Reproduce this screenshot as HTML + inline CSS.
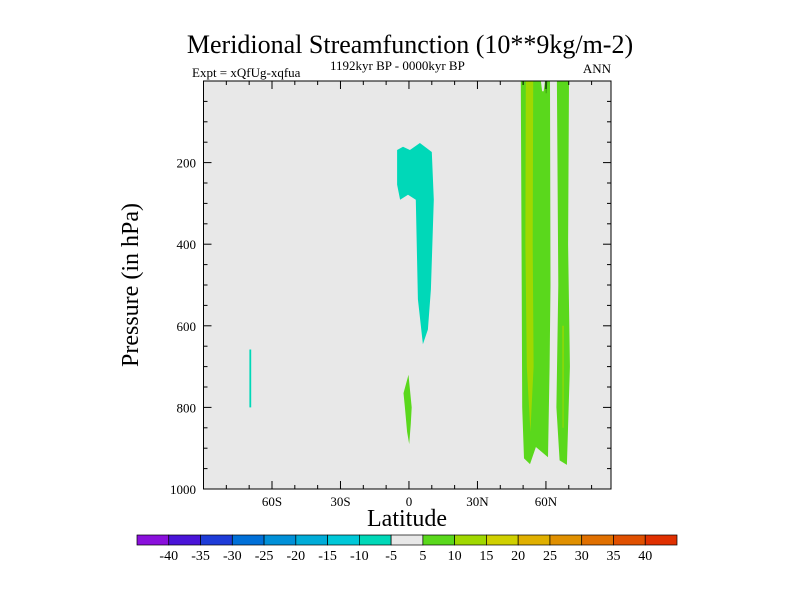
<!DOCTYPE html>
<html><head><meta charset="utf-8"><style>
body{margin:0;background:#fff}
svg{display:block;font-family:"Liberation Serif",serif}
</style></head><body>
<svg width="800" height="600" viewBox="0 0 800 600">
<text x="410" y="53" font-size="26" text-anchor="middle">Meridional Streamfunction (10**9kg/m-2)</text>
<text x="192" y="77" font-size="13">Expt = xQfUg-xqfua</text>
<text x="330" y="70" font-size="13">1192kyr BP - 0000kyr BP</text>
<text x="611" y="73" font-size="13" text-anchor="end">ANN</text>
<rect x="203.5" y="81" width="407.5" height="408" fill="#e8e8e8"/>
<g id="contours"></g>
<rect x="203.5" y="81" width="407.5" height="408" fill="none" stroke="#000" stroke-width="1"/>
<g id="axes"></g>
<text x="407" y="526" font-size="24" text-anchor="middle">Latitude</text>
<text transform="translate(138,285) rotate(-90)" font-size="24" text-anchor="middle">Pressure (in hPa)</text>
<g id="colorbar"></g>
</svg>
<script>
const latTicks=[-60,-30,0,30,60];
const latLabels=["60S","30S","0","30N","60N"];
const presTicks=[200,400,600,800,1000];
const cbLabels=["-40","-35","-30","-25","-20","-15","-10","-5","5","10","15","20","25","30","35","40"];
const cbColors=["#8a10dc","#4a14d8","#1e3cd8","#0070d8","#0090d8","#00acd8","#00c8d8","#00d8b8","#e8e8e8","#5ad81c","#a0d800","#d0d000","#e0b000","#e09000","#e07000","#e05000","#e03000"];
// contour polygons: [lat, pressure]
const cyanUpper=[[-5.2,169],[-2.6,161],[0.4,169],[4.8,152],[10.0,174],[10.9,291],[9.6,511],[8.3,609],[6.1,645],[3.9,535],[3.0,291],[-0.4,279],[-3.9,291],[-5.2,254]];
const cyanSouth=[[-69.9,658],[-69.1,658],[-69.1,800],[-69.9,800]];
const greenEq=[[-2.4,765],[-0.2,720],[1.2,800],[0.8,840],[0.1,890],[-0.8,860],[-1.8,800]];
const greenBand1=[[49.0,0],[61.8,0],[62.0,500],[61.6,700],[60.9,922],[55.6,897],[53.0,939],[50.4,925],[49.6,800],[49.4,500]];
const limeBand1=[[51.2,0],[54.4,0],[54.2,400],[54.6,700],[53.2,860],[51.6,700],[51.0,400]];
const gapTop=[[57.8,0],[59.6,0],[59.0,25],[58.3,25]];
const darkTop=[[59.8,0],[60.6,0],[60.3,30],[59.9,30]];
const greenBand2=[[64.8,0],[70.1,0],[69.7,400],[70.5,700],[69.2,941],[66.0,930],[64.6,800],[65.4,500]];
const limeBand2=[[67.2,600],[67.8,600],[67.7,850],[67.3,850]];
const polys=[[cyanUpper,"#00d8b8","cyan-region-equator"],[cyanSouth,"#00d8b8","cyan-region-south"],[greenEq,"#5ad81c","green-region-equator"],[greenBand1,"#5ad81c","green-band-60n"],[limeBand1,"#a0d800","lime-band-60n"],[gapTop,"#e8e8e8","gap-top-60n"],[darkTop,"#3a9a10","dark-top-60n"],[greenBand2,"#5ad81c","green-band-70n"],[limeBand2,"#a0d800","lime-band-70n"]];
const NS="http://www.w3.org/2000/svg";
const X0=203.5,X1=611,Y0=81,Y1=489,LAT0=-90,LAT1=88.5,P0=0,P1=1000;
const xs=l=>X0+(l-LAT0)/(LAT1-LAT0)*(X1-X0);
const ys=p=>Y0+(p-P0)/(P1-P0)*(Y1-Y0);
function mk(t,a,parent){const e=document.createElementNS(NS,t);for(const k in a)e.setAttribute(k,a[k]);parent.appendChild(e);return e;}
const cg=document.getElementById('contours');
polys.forEach(([pts,col,nm])=>{
  const e=mk('polygon',{points:pts.map(q=>xs(q[0]).toFixed(1)+','+ys(q[1]).toFixed(1)).join(' '),fill:col},cg);
  
  
});
const ag=document.getElementById('axes');
for(let l=-80;l<=80;l+=10){
  const major=latTicks.includes(l);const x=xs(l);
  mk('line',{x1:x,x2:x,y1:Y1,y2:Y1-(major?8:4),stroke:'#000'},ag);
  mk('line',{x1:x,x2:x,y1:Y0,y2:Y0+(major?8:4),stroke:'#000'},ag);
}
latTicks.forEach((l,i)=>{const t=mk('text',{x:xs(l),y:506,'font-size':13,'text-anchor':'middle'},ag);t.textContent=latLabels[i];
  
  });
for(let p=50;p<1000;p+=50){
  const major=presTicks.includes(p);const y=ys(p);
  mk('line',{x1:X0,x2:X0+(major?8:4),y1:y,y2:y,stroke:'#000'},ag);
  mk('line',{x1:X1,x2:X1-(major?8:4),y1:y,y2:y,stroke:'#000'},ag);
}
presTicks.forEach(p=>{const t=mk('text',{x:196,y:ys(p)+5,'font-size':13,'text-anchor':'end'},ag);t.textContent=String(p);
  
  });
const bg=document.getElementById('colorbar');
const CX0=137,CX1=677,CW=(CX1-CX0)/cbColors.length;
cbColors.forEach((c,i)=>{const r=mk('rect',{x:CX0+i*CW,y:535,width:CW,height:10,fill:c,stroke:'#000','stroke-width':0.7},bg);
  
  });
cbLabels.forEach((s,i)=>{const t=mk('text',{x:CX0+(i+1)*CW,y:560,'font-size':14,'text-anchor':'middle'},bg);t.textContent=s;
  
  });
</script>
</body></html>
